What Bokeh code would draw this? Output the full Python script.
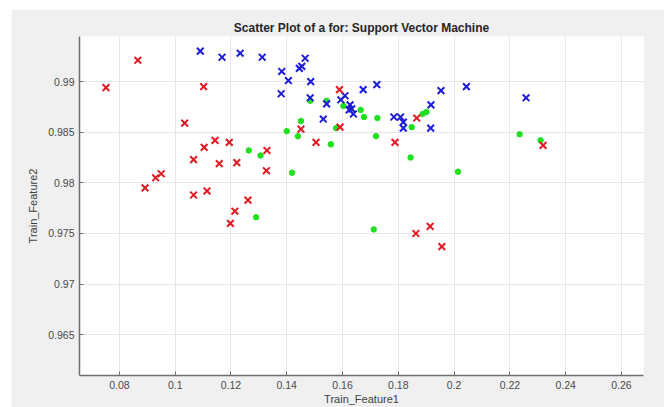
from bokeh.plotting import figure
from bokeh.models import FixedTicker, Range1d, Spacer
from bokeh.layouts import column, row
from bokeh.embed import file_html
from bokeh.resources import INLINE

# Class 1 (red crosses)
red_x = [0.0752, 0.0866, 0.1102, 0.1034, 0.1143, 0.1194, 0.1104, 0.1066, 0.1158,
         0.1221, 0.1329, 0.1327, 0.0950, 0.0930, 0.0892, 0.1066, 0.1114, 0.1261,
         0.1214, 0.1198, 0.1451, 0.1505, 0.1589, 0.1591, 0.1788, 0.1866, 0.1863,
         0.1914, 0.1956, 0.2319]
red_y = [0.9894, 0.9921, 0.9895, 0.9859, 0.9842, 0.9840, 0.9835, 0.9823, 0.9819,
         0.9820, 0.9832, 0.9812, 0.9809, 0.9805, 0.9795, 0.9788, 0.9792, 0.9783,
         0.9772, 0.9760, 0.9853, 0.9840, 0.9892, 0.9855, 0.9840, 0.9864, 0.9750,
         0.9757, 0.9737, 0.9837]

# Class 2 (blue crosses)
blue_x = [0.1090, 0.1168, 0.1233, 0.1312, 0.1466, 0.1382, 0.1445, 0.1454, 0.1406,
          0.1486, 0.1380, 0.1484, 0.1609, 0.1594, 0.1674, 0.1723, 0.1953, 0.1917,
          0.1543, 0.1627, 0.1633, 0.1624, 0.1639, 0.1531, 0.1784, 0.1808, 0.1818,
          0.1818, 0.1916, 0.2044, 0.2258]
blue_y = [0.9930, 0.9924, 0.9928, 0.9924, 0.9923, 0.9910, 0.9913, 0.9915, 0.9901,
          0.9900, 0.9888, 0.9884, 0.9886, 0.9882, 0.9892, 0.9897, 0.9891, 0.9877,
          0.9878, 0.9877, 0.9873, 0.9872, 0.9868, 0.9863, 0.9865, 0.9865, 0.9860,
          0.9854, 0.9854, 0.9895, 0.9884]

# Class 3 (green dots)
green_x = [0.1264, 0.1306, 0.1290, 0.1419, 0.1400, 0.1440, 0.1451, 0.1484, 0.1543,
           0.1558, 0.1577, 0.1603, 0.1665, 0.1677, 0.1725, 0.1720, 0.1712, 0.1844,
           0.1848, 0.1887, 0.1901, 0.2014, 0.2235, 0.2310]
green_y = [0.9832, 0.9827, 0.9766, 0.9810, 0.9851, 0.9846, 0.9861, 0.9881, 0.9881,
           0.9838, 0.9854, 0.9876, 0.9872, 0.9865, 0.9864, 0.9846, 0.9754, 0.9825,
           0.9855, 0.9868, 0.9870, 0.9811, 0.9848, 0.9842]

x_ticks = [0.08, 0.10, 0.12, 0.14, 0.16, 0.18, 0.20, 0.22, 0.24, 0.26]
x_tick_labels = ["0.08", "0.1", "0.12", "0.14", "0.16", "0.18", "0.2", "0.22", "0.24", "0.26"]
y_ticks = [0.965, 0.97, 0.975, 0.98, 0.985, 0.99]
y_tick_labels = ["0.965", "0.97", "0.975", "0.98", "0.985", "0.99"]

FONT = "Liberation Sans"

p = figure(
    width=653, height=398,
    x_range=Range1d(0.0657, 0.2679),
    y_range=Range1d(0.96098, 0.99445),
    output_backend="svg", toolbar_location=None,
    title="Scatter Plot of a for: Support Vector Machine",
    x_axis_label="Train_Feature1", y_axis_label="Train_Feature2",
    min_border_left=68, min_border_right=21,
    min_border_top=27, min_border_bottom=31,
)
p.background_fill_color = "white"
p.border_fill_color = "#f0f0f0"
p.outline_line_color = None

p.title.align = "center"
p.title.text_font = FONT
p.title.text_font_size = "12px"
p.title.text_font_style = "bold"
p.title.text_color = "#262626"
p.title.standoff = 4

for ax in (p.xaxis[0], p.yaxis[0]):
    ax.axis_line_color = "#6e6e6e"
    ax.axis_line_width = 1.5
    ax.major_tick_line_color = "#6e6e6e"
    ax.major_tick_in = 4
    ax.major_tick_out = 0
    ax.minor_tick_line_color = None
    ax.major_label_text_font = FONT
    ax.major_label_text_font_size = "10.5px"
    ax.major_label_text_color = "#4a4a4a"
    ax.axis_label_text_font = FONT
    ax.axis_label_text_font_size = "11px"
    ax.axis_label_text_font_style = "normal"
    ax.axis_label_text_color = "#404040"

p.xaxis.ticker = FixedTicker(ticks=x_ticks)
p.yaxis.ticker = FixedTicker(ticks=y_ticks)
p.xaxis.major_label_overrides = dict(zip(x_ticks, x_tick_labels))
p.yaxis.major_label_overrides = dict(zip(y_ticks, y_tick_labels))
p.xaxis.major_label_standoff = 5
p.xaxis.axis_label_standoff = 1
p.yaxis.major_label_standoff = 5
p.yaxis.axis_label_standoff = 6

p.xgrid.grid_line_color = "#e6e6e6"
p.ygrid.grid_line_color = "#e6e6e6"

p.scatter(green_x, green_y, marker="circle", size=5.5,
          fill_color="#1fe01f", line_color="#1fe01f")
p.scatter(blue_x, blue_y, marker="x", size=9.5, line_width=2,
          line_color="#1c1cd6")
p.scatter(red_x, red_y, marker="x", size=9.5, line_width=2,
          line_color="#e01b24")

layout = column(Spacer(height=9), row(Spacer(width=11), p))

open("out.html", "w").write(file_html(layout, INLINE))
